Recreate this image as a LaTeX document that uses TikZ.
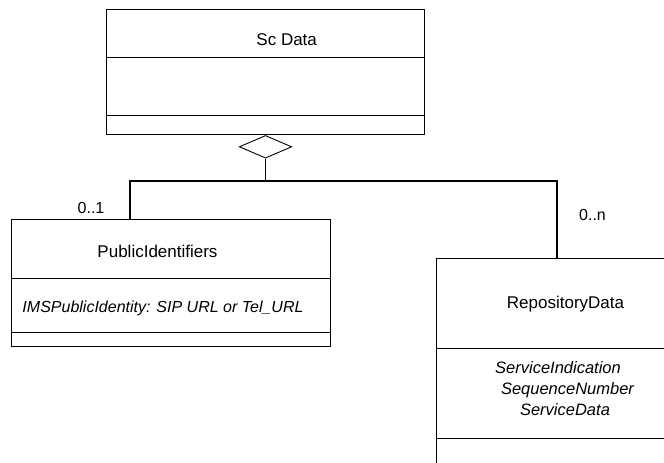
\documentclass[tikz,border=0pt]{standalone}
\usepackage{fontspec}
\setmainfont{Liberation Sans}
\usetikzlibrary{shapes.geometric}
\tikzset{
  box/.style={draw, line width=1pt, rectangle, inner sep=0pt, anchor=north west},
  divider/.style={line width=1pt},
  conn/.style={line width=2pt},
  stem/.style={line width=0.9pt},
  title/.style={anchor=base, inner sep=0pt, font=\fontsize{17}{20}\selectfont},
  attr/.style={anchor=base, inner sep=0pt, font=\fontsize{16.5}{19}\selectfont\itshape},
  mult/.style={anchor=base, inner sep=0pt, font=\fontsize{16}{19}\selectfont},
}
\begin{document}
\begin{tikzpicture}[x=1pt, y=-1pt]
\useasboundingbox (0,0) rectangle (664,463);
\clip (0,0) rectangle (664,463);
% Sc Data class
\node[box, minimum width=318pt, minimum height=125pt] (sc) at (106,9) {};
\draw[divider] (106,57.3) -- (424,57.3);
\draw[divider] (106,115.7) -- (424,115.7);
\node[title] (sct) at (286.7,45) {Sc Data};
% aggregation diamond
\node[draw, line width=0.9pt, diamond, inner sep=0pt, minimum width=52.4pt, minimum height=22.7pt, anchor=north] (agg) at (sc.south) {};
% PublicIdentifiers class
\node[box, minimum width=319pt, minimum height=126.4pt] (pub) at (11,219.3) {};
\draw[divider] (11,278.3) -- (330,278.3);
\draw[divider] (11,332.3) -- (330,332.3);
\node[title] (pubt) at (157.5,257.3) {PublicIdentifiers};
\node[attr, font=\fontsize{16}{19}\selectfont\itshape] (puba) at (163,312.7) {IMSPublicIdentity: SIP URL or Tel\_URL};
% RepositoryData class (extends past the picture edge)
\node[box, minimum width=240pt, minimum height=220pt] (rep) at (436,258.3) {};
\draw[divider] (436,348.3) -- (676,348.3);
\draw[divider] (436,438.3) -- (676,438.3);
\node[title] (rept) at (565.5,308) {RepositoryData};
\node[attr] (repa1) at (558,373.5) {ServiceIndication};
\node[attr] (repa2) at (567.5,394.5) {SequenceNumber};
\node[attr] (repa3) at (565,415) {ServiceData};
% connectors
\coordinate (j) at (agg.south |- 0,181);
\coordinate (pa) at (130,219.3);
\coordinate (ra) at (557.3,258.3);
\draw[stem] (agg.south) -- (j);
\draw[conn] (pa) |- (j) -| (ra);
% multiplicities
\node[mult] (m1) at (91,213) {0..1};
\node[mult] (m2) at (592.5,220) {0..n};
\end{tikzpicture}
\end{document}
